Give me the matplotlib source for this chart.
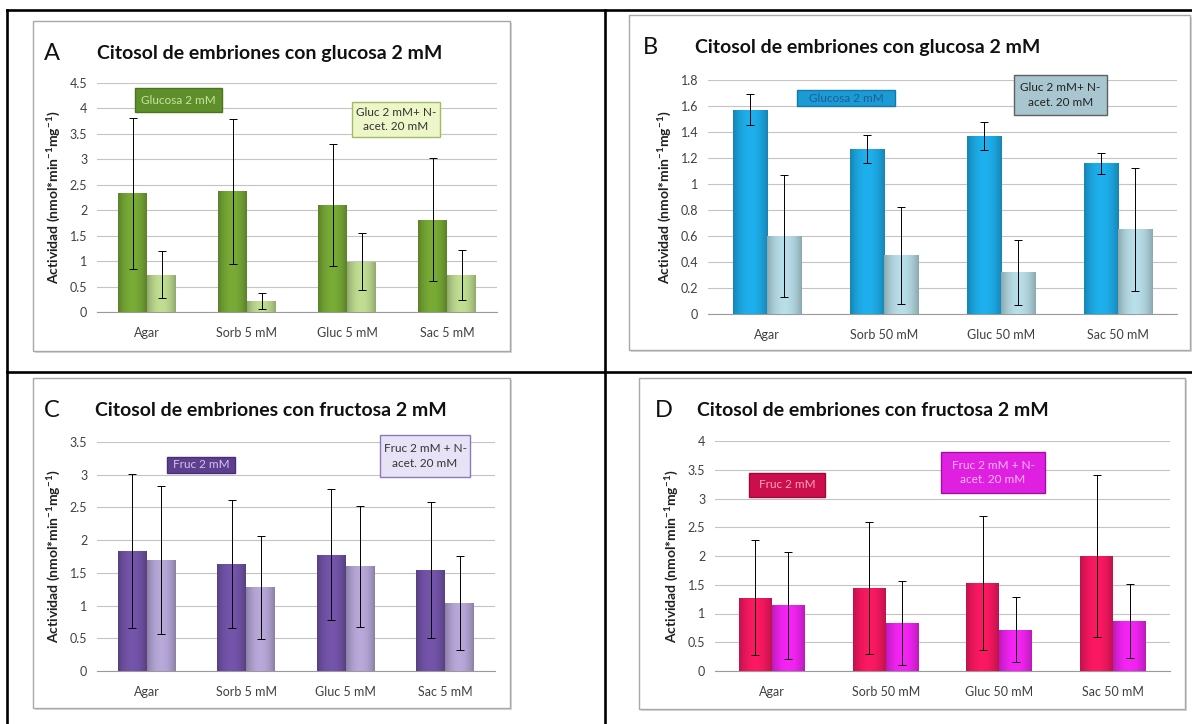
import numpy as np
import matplotlib
matplotlib.use("Agg")
import matplotlib.pyplot as plt
from matplotlib.patches import Rectangle
from matplotlib.lines import Line2D
from matplotlib.colors import to_rgb

plt.rcParams["font.family"] = ["Lato", "DejaVu Sans"]
plt.rcParams["mathtext.default"] = "regular"

# ---------------------------
# Data
# ---------------------------
cats_5 = ["Agar", "Sorb 5 mM", "Gluc 5 mM", "Sac 5 mM"]
cats_50 = ["Agar", "Sorb 50 mM", "Gluc 50 mM", "Sac 50 mM"]

a_dark = [2.33, 2.37, 2.10, 1.81]
a_dark_err = [1.48, 1.43, 1.20, 1.21]
a_light = [0.73, 0.21, 0.99, 0.72]
a_light_err = [0.46, 0.16, 0.56, 0.49]

b_dark = [1.57, 1.27, 1.37, 1.16]
b_dark_err = [0.12, 0.105, 0.105, 0.08]
b_light = [0.60, 0.45, 0.32, 0.65]
b_light_err = [0.47, 0.37, 0.25, 0.47]

c_dark = [1.83, 1.64, 1.78, 1.54]
c_dark_err = [1.18, 0.98, 1.00, 1.04]
c_light = [1.70, 1.28, 1.60, 1.04]
c_light_err = [1.13, 0.79, 0.92, 0.72]

d_dark = [1.27, 1.44, 1.53, 2.00]
d_dark_err = [1.00, 1.15, 1.17, 1.41]
d_light = [1.14, 0.84, 0.72, 0.87]
d_light_err = [0.93, 0.73, 0.57, 0.64]

W, H = 1192, 724
fig = plt.figure(figsize=(W / 100, H / 100), dpi=100)


def px_axes(l, t, r, b):
    return fig.add_axes([l / W, 1 - b / H, (r - l) / W, (b - t) / H])


def fig_rect(l, t, r, b, **kw):
    rect = Rectangle((l / W, 1 - b / H), (r - l) / W, (b - t) / H,
                     transform=fig.transFigure, **kw)
    fig.patches.append(rect)
    return rect


def fig_line(x0, y0, x1, y1, **kw):
    fig.lines.append(Line2D([x0 / W, x1 / W], [1 - y0 / H, 1 - y1 / H],
                            transform=fig.transFigure, **kw))


def legend_box(l, t, r, b, text, face, edge, tcolor):
    fig_rect(l, t, r, b, facecolor=face, edgecolor=edge, linewidth=1.0, zorder=5)
    fig.text((l + r) / 2 / W, 1 - (t + b) / 2 / H, text, ha="center", va="center",
             fontsize=8.5, color=tcolor, linespacing=1.35, zorder=6)


def shade_bars(ax, bars, color):
    # Excel-like horizontal gradient: darker edges, brighter middle
    base = np.array(to_rgb(color))
    t = np.linspace(-1, 1, 64)
    f = 1.06 - 0.26 * t ** 2
    col = np.clip(base[None, :] * f[:, None], 0, 1)
    img = col[None, :, :]
    for patch in bars.patches:
        x0, y0 = patch.get_x(), patch.get_y()
        w, h = patch.get_width(), patch.get_height()
        im = ax.imshow(img, extent=(x0, x0 + w, y0, y0 + h), aspect="auto",
                       interpolation="bilinear", zorder=3.5)
        im.set_clip_path(patch)


panels = [
    dict(letter="A", title="Citosol de embriones con glucosa 2 mM",
         frame=(33, 21, 510, 351), ax=(97, 83, 497, 312), title_xy=(97, 53), letter_x=44,
         cats=cats_5, dark=a_dark, dark_err=a_dark_err, light=a_light, light_err=a_light_err,
         ymax=4.5, step=0.5, c1="#72a233", c2="#b6d28a",
         leg1=((135, 88, 222, 112), "Glucosa 2 mM", "#5f8f2a", "#4a7420", "#c8e3a2"),
         leg2=((352, 102, 440, 137), "Gluc 2 mM+ N-\nacet. 20 mM", "#ecf6c8", "#a0bc62", "#333333")),
    dict(letter="B", title="Citosol de embriones con glucosa 2 mM",
         frame=(629, 15, 1190, 350), ax=(708, 80, 1177, 314), title_xy=(695, 47), letter_x=643,
         cats=cats_50, dark=b_dark, dark_err=b_dark_err, light=b_light, light_err=b_light_err,
         ymax=1.8, step=0.2, c1="#1ca6e0", c2="#aed2dc",
         leg1=((797, 90, 895, 106), "Glucosa 2 mM", "#1b9ad4", "#1478a8", "#1d5f94"),
         leg2=((1014, 75, 1107, 115), "Gluc 2 mM+ N-\nacet. 20 mM", "#a8c6cf", "#606060", "#222222")),
    dict(letter="C", title="Citosol de embriones con fructosa 2 mM",
         frame=(33, 378, 510, 708), ax=(97, 442, 495, 671), title_xy=(95, 410), letter_x=44,
         cats=cats_5, dark=c_dark, dark_err=c_dark_err, light=c_light, light_err=c_light_err,
         ymax=3.5, step=0.5, c1="#6e50a2", c2="#ae9fce",
         leg1=((167, 457, 235, 473), "Fruc 2 mM", "#5e3f8e", "#4a2f78", "#d2c4f0"),
         leg2=((380, 435, 470, 477), "Fruc 2 mM + N-\nacet. 20 mM", "#e8e2f6", "#8a7ab8", "#333333")),
    dict(letter="D", title="Citosol de embriones con fructosa 2 mM",
         frame=(639, 378, 1185, 709), ax=(715, 441, 1170, 671), title_xy=(697, 410), letter_x=655,
         cats=cats_50, dark=d_dark, dark_err=d_dark_err, light=d_light, light_err=d_light_err,
         ymax=4.0, step=0.5, c1="#ee175e", c2="#e822e8",
         leg1=((749, 473, 825, 497), "Fruc 2 mM", "#cc0f4c", "#a00838", "#f4a6bf"),
         leg2=((941, 452, 1045, 493), "Fruc 2 mM + N-\nacet. 20 mM", "#e020e0", "#a010a0", "#f9b8f9")),
]

width = 0.29

for p in panels:
    # chart frame with a soft shadow (kept below the axes)
    l, t, r, b = p["frame"]
    fig_rect(l + 2, t + 2, r + 2, b + 2, facecolor="#d8d8d8", edgecolor="none", zorder=-2)
    fig_rect(l, t, r, b, facecolor="white", edgecolor="#a8a8a8", linewidth=1.0, zorder=-1)

    ax = px_axes(*p["ax"])
    ax.set_zorder(2)
    ax.set_facecolor("none")
    x = np.arange(len(p["cats"]))
    ekw = dict(ecolor="black", elinewidth=0.7, capsize=2.8, capthick=0.7, zorder=5)
    b1 = ax.bar(x - width / 2, p["dark"], width, color=p["c1"], edgecolor="none",
                yerr=p["dark_err"], error_kw=ekw, zorder=3)
    b2 = ax.bar(x + width / 2, p["light"], width, color=p["c2"], edgecolor="none",
                yerr=p["light_err"], error_kw=ekw, zorder=3)
    shade_bars(ax, b1, p["c1"])
    shade_bars(ax, b2, p["c2"])

    ax.set_xlim(-0.5, len(x) - 0.5)
    ax.set_ylim(0, p["ymax"])
    ticks = np.arange(0, p["ymax"] + p["step"] / 2, p["step"])
    ax.set_yticks(ticks)
    ax.set_yticklabels([f"{v:g}" for v in ticks])
    ax.set_xticks(x)
    ax.set_xticklabels(p["cats"])
    ax.yaxis.grid(True, color="#c4c4c4", linewidth=0.8, zorder=0)
    ax.set_axisbelow(True)
    for s in ["top", "right", "left"]:
        ax.spines[s].set_visible(False)
    ax.spines["bottom"].set_color("#9a9a9a")
    ax.tick_params(axis="both", length=0, labelsize=9, colors="#404040")
    ax.tick_params(axis="x", pad=11)
    ax.tick_params(axis="y", pad=7)
    ax.set_ylabel("Actividad (nmol*min$^{-1}$mg$^{-1}$)", fontsize=10,
                  fontweight="bold", color="#202020", labelpad=5)

    tx, ty = p["title_xy"]
    fig.text(tx / W, 1 - ty / H, p["title"], ha="left", va="center",
             fontsize=14, fontweight="bold", color="#111111", zorder=6)
    fig.text(p["letter_x"] / W, 1 - ty / H, p["letter"], ha="left", va="center",
             fontsize=17, color="#111111", zorder=6)

    legend_box(*p["leg1"][0], *p["leg1"][1:])
    legend_box(*p["leg2"][0], *p["leg2"][1:])

# black layout frame
lw = 1.9
fig_line(7, 10, 1192, 10, color="black", linewidth=lw, zorder=10)
fig_line(7, 10, 7, 724, color="black", linewidth=lw, zorder=10)
fig_line(605, 10, 605, 724, color="black", linewidth=lw, zorder=10)
fig_line(7, 372.5, 1192, 372.5, color="black", linewidth=lw, zorder=10)

fig.savefig("out.png", dpi=100)
